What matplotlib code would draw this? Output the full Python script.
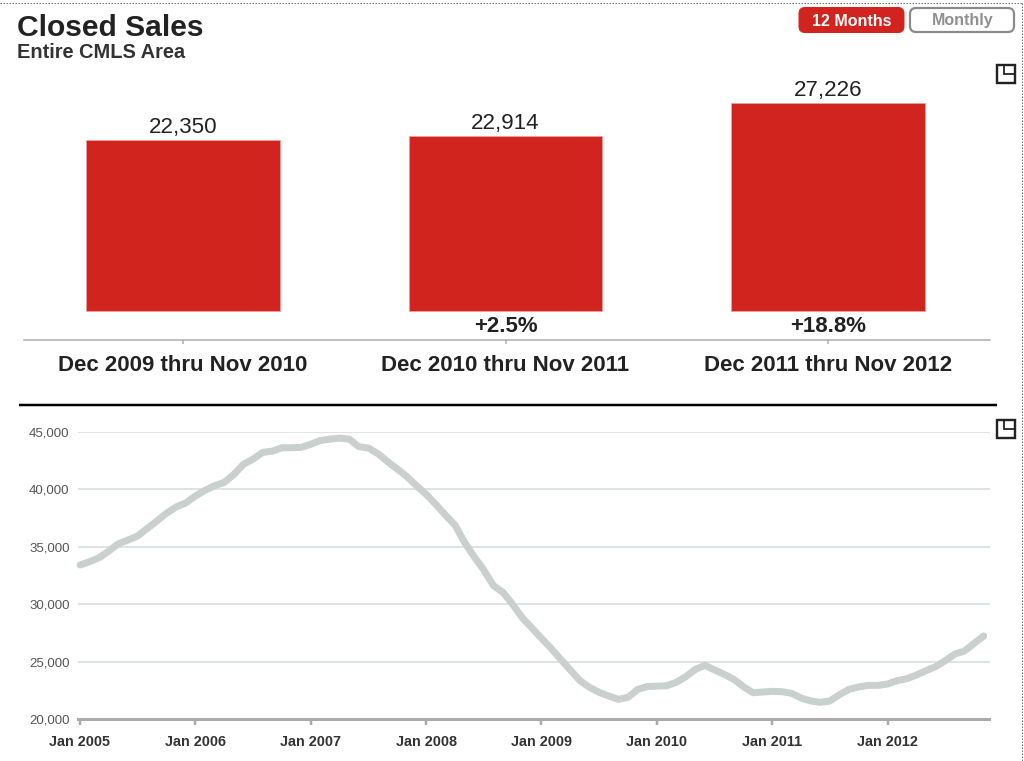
import matplotlib
matplotlib.use("Agg")
import matplotlib.pyplot as plt
from matplotlib.patches import FancyBboxPatch, Rectangle

plt.rcParams['font.family'] = ['Liberation Sans', 'DejaVu Sans']

W, H = 1024, 761
px = 72 / 100  # points per pixel at dpi 100

periods = ["Dec 2009 thru Nov 2010", "Dec 2010 thru Nov 2011", "Dec 2011 thru Nov 2012"]
period_sales = [22350, 22914, 27226]
period_changes = ["", "+2.5%", "+18.8%"]

rolling_sales = [
    33414, 33700, 34050, 34630, 35270, 35590, 35940, 36600, 37250, 37920, 38470, 38820,
    39420, 39920, 40320, 40610, 41300, 42180, 42640, 43220, 43330, 43630, 43630, 43660,
    43930, 44260, 44380, 44470, 44380, 43720, 43600, 43110, 42410, 41780, 41110, 40320,
    39570, 38700, 37770, 36900, 35390, 34130, 32980, 31620, 31030, 29990, 28820, 27930,
    27030, 26160, 25200, 24270, 23340, 22760, 22320, 22000, 21710, 21890, 22570, 22830,
    22860, 22890, 23190, 23680, 24320, 24680, 24270, 23890, 23460, 22820, 22290, 22350,
    22410, 22380, 22240, 21830, 21570, 21450, 21570, 22120, 22590, 22790, 22930, 22930,
    23050, 23340, 23510, 23830, 24210, 24560, 25080, 25660, 25920, 26590, 27226,
]
year_labels = ["Jan 2005", "Jan 2006", "Jan 2007", "Jan 2008",
               "Jan 2009", "Jan 2010", "Jan 2011", "Jan 2012"]
y_ticks = [20000, 25000, 30000, 35000, 40000, 45000]

RED = "#d2241f"
INK = "#222222"


def axes_px(fig, left, top, right, bottom):
    return fig.add_axes([left / W, 1 - bottom / H, (right - left) / W, (bottom - top) / H])


fig = plt.figure(figsize=(W / 100, H / 100), dpi=100, facecolor="white")

# --- Bar panel
ax1 = axes_px(fig, 24, 90, 990, 340)
pos = list(range(len(periods)))
ax1.bar(pos, period_sales, width=0.6, color=RED, edgecolor="#e8a09d", linewidth=0.6)
ax1.set_xlim(-0.493, 2.502)
unit = 171 / 22350
ax1.set_ylim(-29 / unit, 221 / unit)
for s in ("top", "left", "right"):
    ax1.spines[s].set_visible(False)
ax1.spines["bottom"].set_color("#aaaaaa")
ax1.spines["bottom"].set_linewidth(1.5 * px)
ax1.set_yticks([])
ax1.set_xticks(pos)
ax1.set_xticklabels(periods, fontsize=22.3 * px, fontweight="bold", color=INK)
ax1.tick_params(axis="x", length=4 * px, width=1.5 * px, color="#aaaaaa", pad=11 * px)
for p, v, c in zip(pos, period_sales, period_changes):
    ax1.annotate(f"{v:,}", (p, v), xytext=(0, 1.5 * px), textcoords="offset points",
                 ha="center", va="bottom", fontsize=22.4 * px, color=INK)
    if c:
        ax1.annotate(c, (p, 0), xytext=(0, -5 * px), textcoords="offset points",
                     ha="center", va="top", fontsize=22.3 * px, fontweight="bold", color=INK)

# --- Line panel
ax2 = axes_px(fig, 77.5, 432, 989.5, 719)
months = list(range(len(rolling_sales)))
ax2.plot(months, rolling_sales, color="#c9d0ce", lw=7 * px, solid_capstyle="round",
         solid_joinstyle="round", zorder=3, clip_on=False)
ax2.set_xlim(-0.26, 94.6)
ax2.set_ylim(20000, 45000)
for s in ("top", "left", "right"):
    ax2.spines[s].set_visible(False)
ax2.spines["bottom"].set_color("#aaaaaa")
ax2.spines["bottom"].set_linewidth(3 * px)
ax2.set_yticks(y_ticks)
ax2.set_yticklabels([f"{t:,}" for t in y_ticks], fontsize=13.2 * px, color="#555555")
ax2.set_xticks(months[::12])
ax2.set_xticklabels(year_labels, fontsize=14.4 * px, fontweight="bold", color="#333333")
ax2.tick_params(axis="y", length=0, pad=8 * px)
ax2.tick_params(axis="x", length=6 * px, width=2.5 * px, color="#aaaaaa", pad=10 * px)
ax2.grid(axis="y", color="#d5dbd9", lw=1.5 * px, zorder=1)
ax2.set_axisbelow(True)

# --- Page overlay in pixel coordinates
ov = fig.add_axes([0, 0, 1, 1], facecolor="none")
ov.set_xlim(0, W)
ov.set_ylim(H, 0)
ov.axis("off")
ov.set_zorder(5)

ov.text(17, 28, "Closed Sales", fontsize=30 * px, fontweight="bold", color=INK, va="center", ha="left")
ov.text(17, 53, "Entire CMLS Area", fontsize=20 * px, fontweight="bold", color="#333333", va="center", ha="left")

ov.plot([0, 1022], [3, 3], color="#777777", lw=1 * px, ls=(0, (1.5, 1.5)))
ov.plot([1022, 1022], [3, H], color="#777777", lw=1 * px, ls=(0, (1.5, 1.5)))
ov.plot([19, 997], [405, 405], color="black", lw=2.5 * px, solid_capstyle="butt")

ov.add_patch(FancyBboxPatch((799, 7.5), 105, 25, boxstyle="round,pad=0,rounding_size=6",
                            fc=RED, ec=RED, lw=1 * px))
ov.text(851.5, 21, "12 Months", fontsize=16 * px, fontweight="bold", color="white", ha="center", va="center")
ov.add_patch(FancyBboxPatch((910, 8), 104, 24, boxstyle="round,pad=0,rounding_size=6",
                            fc="white", ec="#8a8a8a", lw=2.2 * px))
ov.text(963, 21, "Monthly", fontsize=16 * px, fontweight="bold", color="#8f8f8f", ha="center", va="center")

for ix, iy in ((997, 64.5), (997, 419.5)):
    ov.add_patch(Rectangle((ix, iy), 18, 18, fc="white", ec="#222222", lw=2.4 * px))
    ov.plot([ix + 7, ix + 7, ix + 18], [iy, iy + 9.5, iy + 9.5], color="#222222", lw=1.8 * px,
            solid_joinstyle="miter")

fig.savefig("out.png", dpi=100, facecolor="white")
